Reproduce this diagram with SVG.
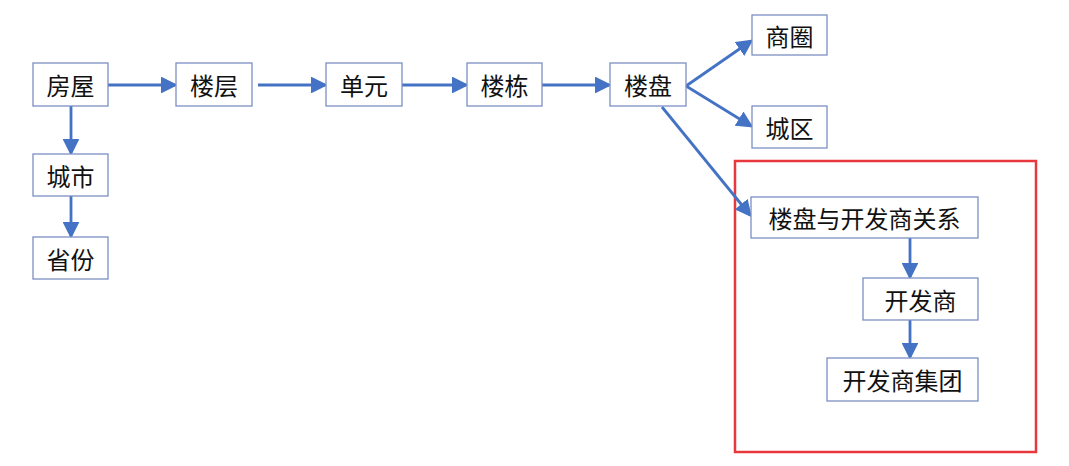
<svg xmlns="http://www.w3.org/2000/svg" width="1069" height="466" viewBox="0 0 1069 466">
<style>
.n rect{fill:#fff;stroke:#7b8fc4;stroke-width:1.3}
.n text{font-family:"Noto Sans CJK SC","Liberation Sans",sans-serif;font-size:24px;fill:#111;text-anchor:middle;dominant-baseline:central}
.c line{stroke:#4472C4;stroke-width:2.8;marker-end:url(#ah)}
</style>
<defs>
<marker id="ah" markerWidth="6" markerHeight="6" refX="5" refY="3" orient="auto" markerUnits="strokeWidth">
<path d="M0,0 L6,3 L0,6 Z" fill="#4472C4"/>
</marker>
</defs>
<rect width="1069" height="466" fill="#fff"/>
<rect x="735" y="161" width="301" height="291" fill="none" stroke="#e8383d" stroke-width="2.5"/>
<g class="c">
<line x1="108" y1="85" x2="175" y2="85"/>
<line x1="258" y1="85" x2="325" y2="85"/>
<line x1="402" y1="85" x2="466" y2="85"/>
<line x1="542" y1="85" x2="609" y2="85"/>
<line x1="71" y1="106" x2="71" y2="153"/>
<line x1="71" y1="196" x2="71" y2="236"/>
<line x1="686" y1="86" x2="751" y2="41"/>
<line x1="686" y1="86" x2="751" y2="126"/>
<line x1="662" y1="107" x2="750" y2="215"/>
<line x1="910" y1="238" x2="910" y2="277"/>
<line x1="910" y1="320" x2="910" y2="357"/>
</g>
<g id="n1" class="n"><rect x="33" y="63" width="75" height="43"/><text x="70.5" y="84.5">房屋</text></g>
<g id="n2" class="n"><rect x="176" y="63" width="76" height="43"/><text x="214" y="84.5">楼层</text></g>
<g id="n3" class="n"><rect x="326" y="63" width="76" height="43"/><text x="364" y="84.5">单元</text></g>
<g id="n4" class="n"><rect x="467" y="63" width="75" height="43"/><text x="504.5" y="84.5">楼栋</text></g>
<g id="n5" class="n"><rect x="610" y="63" width="76" height="43"/><text x="648" y="84.5">楼盘</text></g>
<g id="n6" class="n"><rect x="33" y="154" width="75" height="42"/><text x="70.5" y="175">城市</text></g>
<g id="n7" class="n"><rect x="33" y="237" width="75" height="42"/><text x="70.5" y="258">省份</text></g>
<g id="n8" class="n"><rect x="752" y="15" width="75" height="40"/><text x="789.5" y="35">商圈</text></g>
<g id="n9" class="n"><rect x="752" y="106" width="75" height="42"/><text x="789.5" y="127">城区</text></g>
<g id="n10" class="n"><rect x="751" y="197" width="227" height="41"/><text x="864.5" y="217.5">楼盘与开发商关系</text></g>
<g id="n11" class="n"><rect x="863" y="278" width="115" height="42"/><text x="920.5" y="299">开发商</text></g>
<g id="n12" class="n"><rect x="827" y="358" width="151" height="43"/><text x="902.5" y="379.5">开发商集团</text></g>
</svg>
